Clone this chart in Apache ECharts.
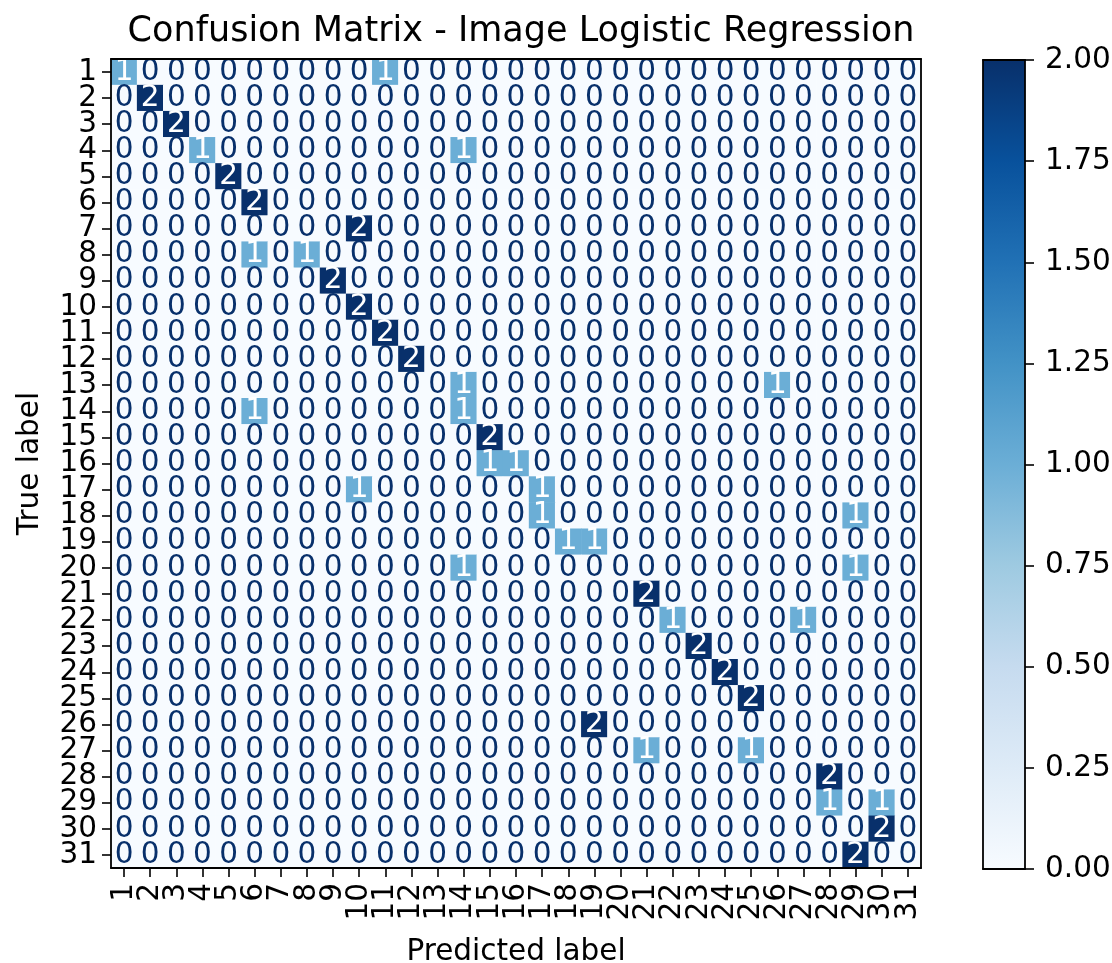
<!DOCTYPE html>
<html>
<head>
<meta charset="utf-8">
<script src="https://cdn.jsdelivr.net/npm/echarts@6/dist/echarts.min.js"></script>
<style>
  html, body { margin: 0; padding: 0; background: #fff; }
  #chart { width: 1112px; height: 963px; }
</style>
</head>
<body>
<div id="chart"></div>
<script>
// class labels 1..31
const labels = [];
for (let i = 1; i <= 31; i++) labels.push(String(i));

// non-zero cells: [true label, predicted label, count]
const hits = [
    [1, 1, 1], [1, 11, 1],
    [2, 2, 2],
    [3, 3, 2],
    [4, 4, 1], [4, 14, 1],
    [5, 5, 2],
    [6, 6, 2],
    [7, 10, 2],
    [8, 6, 1], [8, 8, 1],
    [9, 9, 2],
    [10, 10, 2],
    [11, 11, 2],
    [12, 12, 2],
    [13, 14, 1], [13, 26, 1],
    [14, 6, 1], [14, 14, 1],
    [15, 15, 2],
    [16, 15, 1], [16, 16, 1],
    [17, 10, 1], [17, 17, 1],
    [18, 17, 1], [18, 29, 1],
    [19, 18, 1], [19, 19, 1],
    [20, 14, 1], [20, 29, 1],
    [21, 21, 2],
    [22, 22, 1], [22, 27, 1],
    [23, 23, 2],
    [24, 24, 2],
    [25, 25, 2],
    [26, 19, 2],
    [27, 21, 1], [27, 25, 1],
    [28, 28, 2],
    [29, 28, 1], [29, 30, 1],
    [30, 30, 2],
    [31, 29, 2]
];

const colorTicks = [0, 0.25, 0.5, 0.75, 1, 1.25, 1.5, 1.75, 2];

// matplotlib "Blues"
const blues = ['#f7fbff', '#deebf7', '#c6dbef', '#9ecae1', '#6baed6',
    '#4292c6', '#2171b5', '#08519c', '#08306b'];

const FONT = 'DejaVu Sans';
const FS = 29.5;

let matrix = labels.map(() => labels.map(() => 0));
hits.forEach(h => { matrix[h[0] - 1][h[1] - 1] = h[2]; });

let cells = [];
matrix.forEach((row, r) => {
    row.forEach((v, c) => {
        cells.push({
            value: [c, r, v],
            label: { color: v >= 1 ? '#ffffff' : '#08306b' }
        });
    });
});

let chart = echarts.init(document.getElementById('chart'), null, { renderer: 'canvas' });

let axisLine = { show: true, onZero: false, lineStyle: { color: '#000', width: 1.8 } };
let axisTick = { show: true, length: 9, lineStyle: { color: '#000', width: 1.6 } };

// plain axis used only to draw a black frame edge
let frame = (type, gridIndex, position, extra) => Object.assign({
    type: type, gridIndex: gridIndex, position: position,
    axisLine: axisLine, axisTick: { show: false }, axisLabel: { show: false },
    splitLine: { show: false }, z: 10
}, extra || {});

chart.setOption({
    animation: false,
    backgroundColor: '#fff',
    textStyle: { fontFamily: FONT },
    title: {
        text: 'Confusion Matrix - Image Logistic Regression',
        left: 516,
        top: 9,
        textAlign: 'center',
        textStyle: { fontFamily: FONT, fontSize: 35, fontWeight: 'normal', color: '#000' }
    },
    grid: [
        { left: 111, top: 59, width: 810, height: 809, containLabel: false, outerBoundsMode: 'none' },
        { left: 983, top: 60, width: 42, height: 809, containLabel: false, outerBoundsMode: 'none' }
    ],
    xAxis: [
        {
            type: 'category', gridIndex: 0, data: labels, z: 10,
            axisLine: axisLine, axisTick: Object.assign({ alignWithLabel: true }, axisTick),
            axisLabel: { rotate: 90, fontSize: FS, color: '#000', fontFamily: FONT, margin: 15, interval: 0 },
            name: 'Predicted label', nameLocation: 'middle', nameGap: 69,
            nameTextStyle: { fontSize: FS, color: '#000', fontFamily: FONT }
        },
        {
            type: 'category', gridIndex: 1, data: [''], z: 10,
            axisLine: axisLine, axisTick: { show: false }, axisLabel: { show: false }
        },
        frame('category', 0, 'top', { data: labels }),
        frame('category', 1, 'top', { data: [''] })
    ],
    yAxis: [
        {
            type: 'category', gridIndex: 0, data: labels, inverse: true, z: 10,
            axisLine: axisLine, axisTick: Object.assign({ alignWithLabel: true }, axisTick),
            axisLabel: { fontSize: FS, color: '#000', fontFamily: FONT, margin: 14, interval: 0 },
            name: 'True label', nameLocation: 'middle', nameGap: 66, nameRotate: 90,
            nameTextStyle: { fontSize: FS, color: '#000', fontFamily: FONT }
        },
        {
            type: 'value', gridIndex: 1, position: 'right', min: 0, max: 2, interval: 0.25, z: 10,
            axisLine: axisLine, axisTick: axisTick, splitLine: { show: false },
            axisLabel: { fontSize: FS, color: '#000', fontFamily: FONT, margin: 20,
                formatter: v => v.toFixed(2) }
        },
        frame('category', 0, 'right', { data: labels, inverse: true }),
        frame('value', 1, 'left', { min: 0, max: 2 })
    ],
    visualMap: {
        show: false, min: 0, max: 2, seriesIndex: 0, dimension: 2,
        inRange: { color: blues }
    },
    series: [
        {
            type: 'heatmap', xAxisIndex: 0, yAxisIndex: 0,
            data: cells,
            label: { show: true, fontSize: FS, fontFamily: FONT,
                formatter: p => String(p.value[2]) },
            itemStyle: { borderWidth: 0 },
            emphasis: { disabled: true }
        },
        {
            type: 'bar', xAxisIndex: 1, yAxisIndex: 1,
            data: [colorTicks[colorTicks.length - 1]],
            barWidth: '100%',
            silent: true,
            itemStyle: {
                color: {
                    type: 'linear', x: 0, y: 1, x2: 0, y2: 0,
                    colorStops: blues.map((c, i) => ({ offset: i / (blues.length - 1), color: c }))
                }
            }
        }
    ]
});
</script>
</body>
</html>
